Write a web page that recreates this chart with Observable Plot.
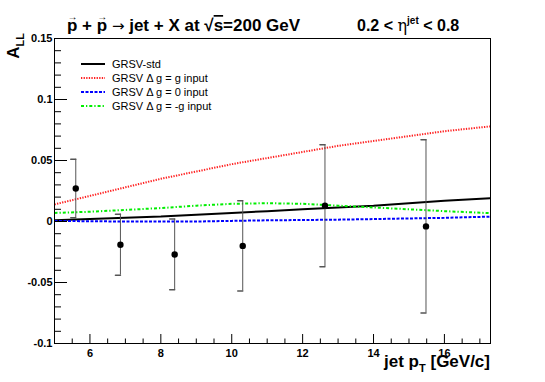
<!DOCTYPE html>
<html><head><meta charset="utf-8">
<script src="https://cdn.jsdelivr.net/npm/d3@7"></script>
<script src="https://cdn.jsdelivr.net/npm/@observablehq/plot@0.6"></script>
<style>body{margin:0;background:#fff} svg{display:block}</style>
</head><body><div id="chart"></div>
<script>
// Measured points
const pointPt = [5.6, 6.86, 8.39, 10.31, 12.63, 15.48];
const pointAll = [0.027, -0.019, -0.027, -0.020, 0.013, -0.004];
const pointErr = [0.024, 0.025, 0.029, 0.037, 0.050, 0.071];

// Theory curves
const curvePt = [5, 6, 7, 8, 9, 10, 11, 12, 13, 14, 15, 16, 17.3];
const grsvStd = [0.001, 0.002, 0.003, 0.004, 0.0055, 0.007, 0.0085, 0.010, 0.0115, 0.013, 0.015, 0.017, 0.019];
const grsvGmax = [0.014, 0.021, 0.028, 0.035, 0.041, 0.047, 0.052, 0.057, 0.062, 0.066, 0.070, 0.074, 0.078];
const grsvZero = [0.0005, 0.0002, 0.0, 0.0, 0.0, 0.0005, 0.001, 0.0012, 0.0015, 0.002, 0.0025, 0.003, 0.004];
const grsvGmin = [0.007, 0.008, 0.0095, 0.011, 0.013, 0.0145, 0.015, 0.0145, 0.013, 0.0115, 0.010, 0.0085, 0.0068];

const seriesNames = ["GRSV-std", "GRSV \u0394 g = g input", "GRSV \u0394 g = 0 input", "GRSV \u0394 g = -g input"];
const seriesColors = ["#000000", "#ff2020", "#0000ff", "#00ee00"];
const seriesDash = [null, "1.3,1.3", "3,1.5", "3,2,1.3,2"];
const seriesWidth = [2, 2, 2, 2];
const seriesValues = [grsvStd, grsvGmax, grsvZero, grsvGmin];

// Axis ticks
const xDomain = [5, 17.3];
const yDomain = [-0.1, 0.15];
const xMajor = [6, 8, 10, 12, 14, 16];
const xMinor = [5.5, 6.5, 7, 7.5, 8.5, 9, 9.5, 10.5, 11, 11.5, 12.5, 13, 13.5, 14.5, 15, 15.5, 16.5, 17];
const yMajor = [-0.1, -0.05, 0, 0.05, 0.1, 0.15];
const yMinor = [-0.09,-0.08,-0.07,-0.06,-0.04,-0.03,-0.02,-0.01,0.01,0.02,0.03,0.04,0.06,0.07,0.08,0.09,0.11,0.12,0.13,0.14];

const points = pointPt.map((x, i) => ({x, y: pointAll[i], e: pointErr[i]}));
const curves = seriesValues.map((vals, s) => curvePt.map((x, i) => ({x, y: vals[i], s})));

const capShape = {draw(ctx, l) { ctx.moveTo(0, l / 2); ctx.lineTo(0, -l / 2); }};
const FONT = "'Liberation Sans', Arial, Helvetica, sans-serif";

const W = 545, H = 382, ML = 54, MR = 55, MT = 38, MB = 39;
const FW = W - ML - MR, FH = H - MT - MB;

const svg = Plot.plot({
  width: W, height: H,
  marginLeft: ML, marginRight: MR, marginTop: MT, marginBottom: MB,
  style: {fontFamily: FONT, background: "white", color: "black"},
  x: {domain: xDomain},
  y: {domain: yDomain},
  marks: [
    ...curves.map((c, s) => Plot.line(c, {x: "x", y: "y", stroke: seriesColors[s], strokeWidth: seriesWidth[s], strokeDasharray: seriesDash[s], strokeLinecap: "butt", strokeLinejoin: "miter", clip: true})),
    Plot.ruleX(points, {x: "x", y1: d => d.y - d.e, y2: d => d.y + d.e, stroke: "#555", strokeWidth: 1}),
    Plot.vector(points, {x: "x", y: d => d.y + d.e, length: 5, rotate: 90, anchor: "middle", shape: capShape, stroke: "#555"}),
    Plot.vector(points, {x: "x", y: d => d.y - d.e, length: 5, rotate: 90, anchor: "middle", shape: capShape, stroke: "#555"}),
    Plot.dot(points, {x: "x", y: "y", r: 3.2, fill: "black"}),
    // inward ticks
    Plot.tickY(yMajor, {y: d => d, insetRight: FW - 13, stroke: "black", strokeWidth: 1}),
    Plot.tickY(yMinor, {y: d => d, insetRight: FW - 7, stroke: "black", strokeWidth: 1}),
    Plot.tickX(xMajor, {x: d => d, insetTop: FH - 9, stroke: "black", strokeWidth: 1}),
    Plot.tickX(xMinor, {x: d => d, insetTop: FH - 4.5, stroke: "black", strokeWidth: 1}),
    Plot.axisY({ticks: yMajor, tickSize: 0, tickPadding: 2, tickFormat: d => String(d), fontWeight: "bold", fontSize: 11, label: null}),
    Plot.axisX({ticks: xMajor, tickSize: 0, tickPadding: 6, tickFormat: d => String(d), fontWeight: "bold", fontSize: 11, label: null}),
    Plot.frame({stroke: "black"})
  ]
});

const sel = d3.select(svg);

function rich(g, parts, attrs) {
  const t = g.append("text").attr("font-family", FONT).attr("text-anchor", "start");
  for (const [k, v] of Object.entries(attrs)) t.attr(k, v);
  for (const p of parts) {
    const ts = t.append("tspan").text(p.t);
    if (p.dx != null) ts.attr("dx", p.dx);
    if (p.dy != null) ts.attr("dy", p.dy);
    if (p.size) ts.attr("font-size", p.size);
    if (p.weight) ts.attr("font-weight", p.weight);
    if (p.family) ts.attr("font-family", p.family);
    if (p.style) ts.attr("style", p.style);
  }
  return t;
}

const g = sel.append("g").attr("text-anchor", "start");
// main title
rich(g, [
  {t: "p"}, {t: "\u2192", dx: -10, dy: -11.5, size: 10},
  {t: " + p", dy: 11.5}, {t: "\u2192", dx: -10, dy: -11.5, size: 10},
  {t: " ", dy: 11.5},
  {t: "\u2192", family: "'DejaVu Sans', sans-serif", weight: "normal", size: 15},
  {t: " jet + X at \u221A"},
  {t: "s", style: "text-decoration:overline"},
  {t: "=200 GeV"}
], {x: 67, y: 31, "font-size": 17, "font-weight": "bold", fill: "black"});
// eta range
rich(g, [
  {t: "0.2 < "}, {t: "\u03B7", weight: "normal", family: "'DejaVu Serif', serif"},
  {t: "jet", dy: -7, size: 10}, {t: " < 0.8", dy: 7}
], {x: 357, y: 31, "font-size": 16, "font-weight": "bold", fill: "black"});
// x title
rich(g, [
  {t: "jet p"}, {t: "T", dy: 5, size: 11}, {t: " [GeV/c]", dy: -5}
], {x: 490, y: 367, "text-anchor": "end", "font-size": 17, "font-weight": "bold", fill: "black"});
// y title
rich(g, [
  {t: "A"}, {t: "LL", dy: 5, size: 11}
], {transform: "translate(19,33) rotate(-90)", "text-anchor": "end", "font-size": 17, "font-weight": "bold", fill: "black"});

// legend
const legendY = [64, 78, 92, 106];
seriesNames.forEach((name, i) => {
  const ln = g.append("line").attr("x1", 81).attr("x2", 105).attr("y1", legendY[i]).attr("y2", legendY[i])
    .attr("stroke", seriesColors[i]).attr("stroke-width", seriesWidth[i]);
  if (seriesDash[i]) ln.attr("stroke-dasharray", seriesDash[i]);
  g.append("text").attr("x", 112).attr("y", legendY[i] + 4).attr("font-family", FONT)
    .attr("text-anchor", "start").attr("font-size", 11).attr("fill", "black").text(name);
});

document.getElementById("chart").appendChild(svg);
</script>
</body></html>
